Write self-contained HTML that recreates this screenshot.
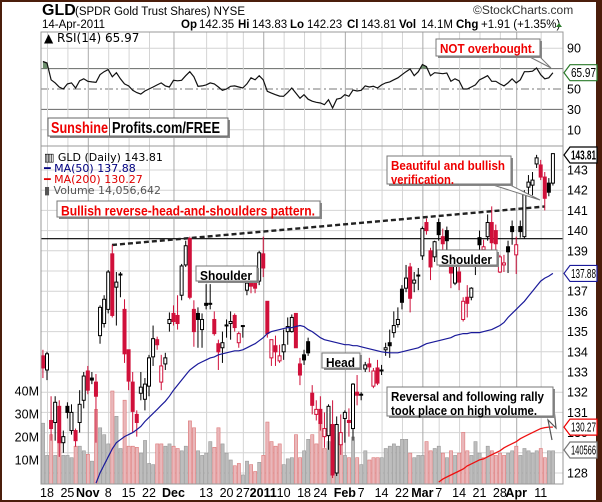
<!DOCTYPE html>
<html><head><meta charset="utf-8"><style>
html,body{margin:0;padding:0;background:#fff}
svg{display:block}
text{font-family:"Liberation Sans",sans-serif}
.dv{font-family:"DejaVu Sans","Liberation Sans",sans-serif}
</style></head><body>
<svg id="chart" width="602" height="502" viewBox="0 0 602 502" xmlns="http://www.w3.org/2000/svg">
<rect x="0" y="0" width="602" height="502" fill="#fff" stroke="#4b1e0c" stroke-width="4"/>
<rect x="596" y="0" width="6" height="502" fill="#4b1e0c"/>
<g>
<text x="42" y="15" font-size="16" font-weight="bold">GLD</text>
<text x="75" y="15" font-size="11.5">(SPDR Gold Trust Shares) NYSE</text>
<text x="473" y="14" font-size="12" fill="#333">©StockCharts.com</text>
<text x="42" y="28" font-size="11.5">14-Apr-2011</text>
<text y="28" font-size="11.5"><tspan x="181" font-weight="bold">Op</tspan><tspan x="199">142.35</tspan><tspan x="238" font-weight="bold">Hi</tspan><tspan x="252">143.83</tspan><tspan x="290" font-weight="bold">Lo</tspan><tspan x="307">142.23</tspan><tspan x="347" font-weight="bold">Cl</tspan><tspan x="361">143.81</tspan><tspan x="399" font-weight="bold">Vol</tspan><tspan x="421">14.1M</tspan><tspan x="456" font-weight="bold">Chg</tspan><tspan x="481">+1.91 (+1.35%)</tspan></text>
<polygon points="556,27 562,27 559,23" fill="#2a7a2a"/>
</g>
<g id="grid"></g>
<g id="vol"></g>
<g id="lines"></g>
<g id="candles"></g>
<g id="ma"></g>
<g id="rsi"></g>
<g id="axes"></g>
<g id="notes">
<g class="dv" font-size="11">
<text x="44" y="161" class="dv">▥ GLD (Daily) 143.81</text>
<text x="44" y="172" class="dv" fill="#000080">━ MA(50) 137.88</text>
<text x="44" y="183" class="dv" fill="#e00000">━ MA(200) 130.27</text>
<text x="44" y="194" class="dv" fill="#555">▮ Volume 14,056,642</text>
</g>
<text x="44" y="42" font-size="12" class="dv">▲ RSI(14) 65.97</text>
</g>
</svg>
<script>
const tickLabels=['18','25','Nov','8','15','22','Dec','13','20','27','2011','10','18','24','Feb','7','14','22','Mar','7','14','21','28','Apr','11'];
const tickIndex=[0,5,10,15,20,25,31,39,44,48,53,58,63,67,73,77,82,87,92,96,101,106,111,115,121];
const tickBold=[0,0,1,0,0,0,1,0,0,0,1,0,0,0,1,0,0,0,1,0,0,0,0,1,0];
const priceTicks=[128,129,130,131,132,133,134,135,136,137,138,139,140,141,142,143];
const priceTickLabels=['128','','130','131','132','133','134','135','136','137','','139','140','141','142','143'];
const volTicks=[10,20,30,40];
const rsiTicks=[90,70,50,30,10];
const firstIndex=-1;
const openP=[133.8,133.1,130.6,130.5,131.3,129.5,131.3,130.1,130.1,130.5,131.6,133.05,132.7,132.5,134.8,135.4,136.1,138.85,137.2,137.85,136.1,134.1,132.5,130.9,131.95,131.65,132.3,133.75,134.6,132.5,133.4,135.4,135.9,135.8,136.8,138.3,139.6,136.1,135.9,135.1,136.4,136.4,135.6,134.4,134.2,135.33,135.4,135.8,134.45,135.3,137.05,137.45,137.5,137.5,138.85,136.5,133.7,134.3,133.55,134.0,135.0,135.0,135.9,133.4,133.85,134.5,131.95,130.9,131.15,129.8,129.85,130.4,128.0,129.4,130.7,130.6,130.2,132.0,131.9,133.15,133.4,132.3,133.2,133.1,134.1,134.45,134.95,135.35,137.1,137.15,138.2,137.4,137.8,138.75,140.4,139.0,138.7,140.4,139.7,140.0,138.4,137.4,137.95,135.6,136.7,136.7,138.7,139.65,139.05,139.7,140.4,140.0,137.95,138.3,139.2,140.2,138.8,140.2,139.7,142.15,142.25,143.3,143.25,142.65,142.35,142.35];
const closeP=[133.2,133.9,130.2,131.5,129.5,129.8,131.0,131.0,129.6,131.4,132.8,132.1,132.6,131.8,136.2,136.6,137.95,135.8,137.45,137.8,133.9,132.55,131.05,130.5,132.25,132.4,133.7,134.65,134.35,133.3,133.7,135.6,135.5,135.4,138.25,139.25,136.7,135.0,135.6,135.6,136.3,136.35,134.9,134.0,134.45,135.28,135.5,135.2,134.9,135.25,137.4,137.25,137.15,138.9,138.15,134.9,134.6,134.0,133.8,134.35,135.25,135.7,134.2,132.85,133.6,133.95,131.35,131.15,130.45,130.2,131.3,127.9,130.4,130.0,131.0,130.5,132.4,131.85,131.85,133.35,133.25,133.05,132.45,133.07,134.2,134.3,135.3,135.6,136.45,137.65,136.65,137.55,137.75,140.1,140.0,138.2,139.45,139.8,139.35,139.5,137.9,138.7,137.45,136.5,136.4,137.15,138.4,139.3,139.2,140.4,139.4,139.35,138.7,138.4,138.95,139.95,139.3,139.95,141.85,142.4,142.5,143.6,142.65,141.6,141.9,143.81];
const highP=[134.1,134.0,131.8,131.8,131.6,130.1,131.5,131.4,130.2,132.1,133.0,133.3,133.0,132.9,136.3,136.8,138.05,139.3,137.95,137.95,136.6,134.1,133.0,131.1,133.0,132.7,133.85,135.3,134.75,133.85,133.95,135.95,136.3,136.8,138.35,139.5,139.7,136.55,136.2,135.9,137.35,137.35,136.0,134.6,135.0,135.6,136.0,135.9,135.0,135.3,138.05,137.6,137.9,139.0,139.7,136.5,134.6,134.8,134.35,135.1,135.7,135.85,135.9,133.7,134.1,134.7,132.35,131.6,131.8,131.0,131.4,131.6,130.8,130.9,131.1,131.2,132.45,132.85,132.0,133.5,133.7,133.2,133.6,133.35,134.45,135.1,136.0,136.2,137.3,138.3,138.4,137.95,138.15,140.2,140.6,139.15,139.5,140.6,140.1,140.2,139.0,138.8,138.3,136.7,137.3,137.2,139.05,140.0,139.55,140.8,141.2,140.3,138.8,138.8,139.5,140.5,139.7,140.5,142.0,142.75,142.9,143.75,143.5,142.9,142.6,143.83];
const lowP=[132.7,132.6,129.6,129.6,128.8,129.0,130.7,129.9,129.3,130.0,131.2,131.9,132.4,129.5,134.4,135.2,135.9,135.7,135.3,136.7,133.45,132.1,130.0,129.8,131.6,131.1,131.8,133.3,134.1,132.1,133.1,135.0,135.3,135.1,136.55,138.2,136.6,134.25,134.2,134.2,136.1,136.1,134.8,133.1,133.45,134.7,134.6,135.0,134.2,134.7,136.8,136.9,136.9,137.3,137.7,134.7,133.3,133.3,133.45,133.6,134.35,134.95,134.2,132.35,133.35,133.8,130.9,130.6,130.1,129.25,129.15,127.75,127.85,128.9,129.5,129.8,129.6,131.35,131.6,133.0,133.0,132.2,132.35,132.85,133.8,133.7,134.7,135.2,136.1,136.95,135.95,136.95,137.05,138.55,139.8,137.55,138.45,139.5,139.0,139.05,137.15,137.3,137.05,135.5,135.7,136.55,137.8,138.45,138.4,139.5,139.05,138.45,137.9,137.95,137.9,139.3,137.85,139.65,139.6,141.75,141.75,143.1,142.5,141.0,141.7,142.23];
const volumeM=[26,12,21,12,20,12,12,11,16,16,14,12.5,9.5,32,24,21,17,40,29,15,36,16,16,15.5,13,18.5,8.5,8,17,17,16,17,16,15,14,16,27,24,14,12,13,18,15.5,24,17,13,10,7.5,8.5,3.5,9.5,8,5,9,12,26.5,18,16,17,8,10.5,11,21,11,14,19,21,17,27,15,18,25,20,17,12,11,20,11,8,14,10,11,11,11,15,16,17,16,19,19,13,11,12,12,18,14,15,16,13,11,14,12,13,22,14,12,18,13,11,16,14,12,13,12,13,14,16,12,15,14,13,14,15,11,14,14];
const rsiV=[77,75.5,59,56,52,50,55,56,51,58,60,57.5,57,56.5,64,67,69,62,66,60,55,53,48.7,46.5,45,48,50,52,54,56,53,52,58.5,58,58.5,63,67,62,52.6,53,54,56,55,52,48.7,50,52.6,53,52,51,55,61,59,63,59,47.7,46,44.4,43,42.8,46.7,51,46,41,44.4,40,38,37,36.3,34.6,39.5,31.4,40,41,44.4,42.8,49,48,48.7,53,52,52.6,51,54,56,57,59,61,64,67,69.6,63,67,74,72,63,66,65.5,65,65.7,57.5,60,58,50,50,52,54,59,61,63,57.5,57.5,55,53,56,60,56,59,67,67,67.5,70.6,64,60,61,66];
const ma50Start=12;
const ma50=[127.5,128.0,128.4,128.8,129.2,129.5,129.65,129.8,129.9,130.0,130.15,130.3,130.55,130.75,130.95,131.15,131.35,131.55,131.8,132.1,132.35,132.6,132.85,133.1,133.25,133.4,133.5,133.6,133.7,133.75,133.85,133.9,133.95,134.0,134.05,134.05,134.1,134.2,134.3,134.4,134.55,134.7,134.9,135.0,135.05,135.1,135.15,135.2,135.2,135.25,135.3,135.25,135.1,135.0,134.85,134.7,134.6,134.55,134.5,134.45,134.4,134.35,134.35,134.3,134.3,134.25,134.2,134.15,134.1,134.05,134.0,133.97,133.95,133.95,133.95,134.0,134.05,134.1,134.15,134.2,134.3,134.4,134.45,134.5,134.55,134.6,134.65,134.7,134.8,134.85,134.9,134.9,134.95,134.95,134.95,135.0,135.05,135.1,135.2,135.3,135.45,135.7,135.9,136.1,136.3,136.5,136.75,137.0,137.25,137.5,137.65,137.75,137.88];
const ma200Start=96;
const ma200=[127.55,127.7,127.8,127.9,128.0,128.1,128.2,128.35,128.45,128.55,128.65,128.7,128.8,128.9,129.0,129.1,129.25,129.35,129.45,129.55,129.7,129.8,129.9,130.0,130.1,130.2,130.25,130.27,130.27];

const NS='http://www.w3.org/2000/svg';
const L=41,R=563,T1=32,B1=146,T2=146,B2=484;
const xS=i=>47+4.08*i;
const yP=p=>170+(143-p)*20.2;
const yV=v=>483-v*2.3;
const yR=v=>89-(v-50)*1.02;
function mk(tag,parent,attrs){const e=document.createElementNS(NS,tag);for(const k in attrs)e.setAttribute(k,attrs[k]);parent.appendChild(e);return e;}
const grid=document.getElementById('grid'),vol=document.getElementById('vol'),cg=document.getElementById('candles'),
 ma=document.getElementById('ma'),rg=document.getElementById('rsi'),ax=document.getElementById('axes'),lines=document.getElementById('lines');

priceTicks.forEach(p=>{const e=mk('line',grid,{x1:L,x2:R,y1:yP(p),y2:yP(p),stroke:'#d4d4d4','stroke-width':1});
 
 });
rsiTicks.forEach(v=>{const dark=(v==70||v==30);const e=mk('line',grid,{x1:L,x2:R,y1:yR(v),y2:yR(v),stroke:dark?'#666':(v==50?'#777':'#d4d4d4'),'stroke-width':1,'stroke-dasharray':v==50?'8,3,2,3':'none'});
 
 });
tickIndex.forEach((ti,k)=>{const x=xS(ti)+0.5;[[T1,B1],[T2,B2]].forEach(([a,b])=>{const e=mk('line',grid,{x1:x,x2:x,y1:a,y2:b,stroke:tickBold[k]?'#aaa':'#d4d4d4','stroke-width':1});
 
 });});

volumeM.forEach((v,k)=>{const i=k+firstIndex;const down=k>0&&closeP[k]<closeP[k-1];
 const y=yV(v);const e=mk('rect',vol,{x:xS(i)-1.5,y:y,width:3.2,height:B2-y,fill:down?'#e9b7ba':'#bdbdbd',stroke:down?'#d77':'#999','stroke-width':0.6});
 
 });

let d='';ma200.forEach((v,k)=>{d+=(k?'L':'M')+xS(k+ma200Start).toFixed(1)+','+yP(v).toFixed(1);});
const m2=mk('path',ma,{d:d,fill:'none',stroke:'#ee1111','stroke-width':1.3});



const hl=mk('line',lines,{x1:L,x2:R,y1:238.7,y2:238.7,stroke:'#000','stroke-width':1.2});


const nl=mk('line',lines,{x1:112,y1:245,x2:545,y2:206.5,stroke:'#222','stroke-width':2.4,'stroke-dasharray':'5,3'});



closeP.forEach((c,k)=>{const i=k+firstIndex;const o=openP[k];const prev=k>0?closeP[k-1]:o;
 const col=c<prev?'#d0103a':'#000';const x=xS(i);
 const w=mk('line',cg,{x1:x,x2:x,y1:yP(highP[k]),y2:yP(lowP[k]),stroke:col,'stroke-width':1});
 
 
 const top=yP(Math.max(o,c)),bot=yP(Math.min(o,c));
 const b=mk('rect',cg,{x:x-1.5,y:top,width:3,height:Math.max(1,bot-top),fill:c>o?'#fff':col,stroke:col,'stroke-width':1});
 
 });

d='';ma50.forEach((v,k)=>{d+=(k?'L':'M')+xS(k+ma50Start).toFixed(1)+','+Math.min(B2,yP(v)).toFixed(1);});
const m5=mk('path',ma,{d:d,fill:'none',stroke:'#1a1a9a','stroke-width':1.2});



const defs=mk('defs',rg,{});const cp=mk('clipPath',defs,{id:'above70'});mk('rect',cp,{x:L,y:T1,width:R-L,height:yR(70)-T1});
let pts=rsiV.map((v,k)=>xS(k+firstIndex).toFixed(1)+','+yR(v).toFixed(1));
const fa=mk('polygon',rg,{points:xS(firstIndex)+','+yR(70)+' '+pts.join(' ')+' '+xS(firstIndex+rsiV.length-1)+','+yR(70),fill:'#6d8f6d','clip-path':'url(#above70)'});


const rl=mk('polyline',rg,{points:pts.join(' '),fill:'none',stroke:'#111','stroke-width':1.2});



[[T1,B1],[T2,B2]].forEach(([a,b])=>{const e=mk('rect',ax,{x:L,y:a,width:R-L,height:b-a,fill:'none',stroke:'#999','stroke-width':1});
 
 });

function txt(parent,x,y,s,attrs){const e=mk('text',parent,Object.assign({x:x,y:y,'font-size':12},attrs||{}));e.textContent=s;return e;}
priceTicks.forEach((p,k)=>{if(!priceTickLabels[k])return;const e=txt(ax,567,yP(p)+4.5,priceTickLabels[k],{'font-size':12.5});
 
 });
rsiTicks.forEach(v=>{if(v==70)return;const e=txt(ax,567,yR(v)+4.5,String(v),{'font-size':12.5});
 
 });
volTicks.forEach(v=>{const e=txt(ax,39,yV(v)+4.5,v+'M',{'font-size':12.5,'text-anchor':'end'});
 
 });
tickIndex.forEach((ti,k)=>{const e=txt(ax,xS(ti),497,tickLabels[k],{'font-size':12.5,'text-anchor':'middle','font-weight':tickBold[k]?'bold':'normal'});
 
 });

function callout(y,label,color,bold,name){const g=mk('g',ax,{});
 
 
 mk('polygon',g,{points:`${564},${y} ${570},${y-8} ${597},${y-8} ${597},${y+8} ${570},${y+8}`,fill:'#fff',stroke:color,'stroke-width':1.2});
 txt(g,571,y+4.5,label,{'font-size':12.5,'font-weight':bold?'bold':'normal',textLength:25,lengthAdjust:'spacingAndGlyphs'});}
callout(155,'143.81','#000',true,'last-price-callout');
callout(yP(137.88),'137.88','#1a1a9a',false,'ma50-callout');
callout(yP(130.27),'130.27','#e00',false,'ma200-callout');
callout(450,'140566','#777',false,'volume-callout');
callout(yR(65.97),'65.97','#2a7a2a',false,'rsi-callout');

const notes=document.getElementById('notes');
function box(x,y,w,h,lines,lens,color,name,fs){const g=mk('g',notes,{});
 
 
 mk('rect',g,{x:x+2,y:y+2,width:w,height:h,fill:'#888'});
 mk('rect',g,{x:x,y:y,width:w,height:h,fill:'#fff',stroke:'#777','stroke-width':1});
 lines.forEach((s,k)=>{txt(g,x+4,y+fs+1+k*(fs+1),s,{'font-size':fs,'font-weight':'bold',fill:color,textLength:lens[k],lengthAdjust:'spacingAndGlyphs'});});
 return g;}
mk('polygon',notes,{points:'526,55 538,55 551,68',fill:'#fff',stroke:'#777'});
mk('polygon',notes,{points:'490,184 508,184 540,200',fill:'#fff',stroke:'#777'});
mk('polyline',notes,{points:'552,390 556,428 548,420 552,440',fill:'none',stroke:'#555','stroke-width':1.2});
box(436,39,104,17,['NOT overbought.'],[95],'#e00','not-overbought-note',13);
box(387,156,124,28,['Beautiful and bullish','verification.'],[114,63],'#e00','verification-note',13);
box(57,201,263,16,['Bullish reverse-head-and-shoulders pattern.'],[254],'#e00','pattern-note',13.5);
box(196,266,61,15,['Shoulder'],[52],'#000','left-shoulder-note',13);
box(437,250,60,15,['Shoulder'],[51],'#000','right-shoulder-note',13);
box(322,353,38,15,['Head'],[29],'#000','head-note',13);
box(387,387,166,29,['Reversal and following rally','took place on high volume.'],[153,146],'#000','volume-note',13);
const sg=mk('g',notes,{});


mk('rect',sg,{x:50,y:120,width:180,height:18,fill:'#888'});
mk('rect',sg,{x:48,y:118,width:180,height:18,fill:'#fff',stroke:'#666'});
mk('line',sg,{x1:109.5,x2:109.5,y1:118,y2:136,stroke:'#666'});
txt(sg,51,133,'Sunshine',{'font-size':16,'font-weight':'bold',fill:'#e00',textLength:57,lengthAdjust:'spacingAndGlyphs'});
txt(sg,112,133,'Profits.com/FREE',{'font-size':16,'font-weight':'bold',fill:'#000',textLength:108,lengthAdjust:'spacingAndGlyphs'});
</script>
</body></html>
